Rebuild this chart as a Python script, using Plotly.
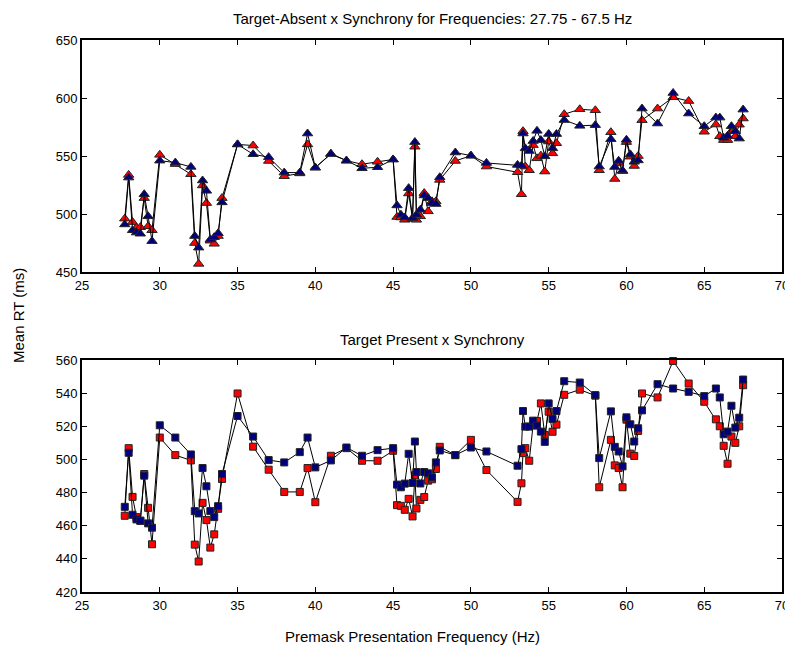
import plotly.graph_objects as go

freqs = [27.75, 28, 28.25, 28.5, 28.75, 29, 29.25, 29.5, 30, 31, 32, 32.25, 32.5, 32.75, 33,
         33.25, 33.5, 33.75, 34, 35, 36, 37, 38, 39, 39.5, 40, 41, 42, 43, 44, 45, 45.25, 45.5,
         45.75, 46, 46.25, 46.4, 46.5, 46.75, 47, 47.25, 47.5, 47.75, 48, 49, 50, 51, 53, 53.25,
         53.35, 53.5, 53.75, 54, 54.25, 54.5, 54.75, 55, 55.25, 55.5, 56, 57, 58, 58.25, 59,
         59.25, 59.5, 59.75, 60, 60.25, 60.5, 60.75, 61, 62, 63, 64, 65, 65.75, 66, 66.25, 66.5,
         66.75, 67, 67.25, 67.5]

absent_red = [496, 533.7, 493, 488, 488.6, 513.7, 489.4, 486, 551, 543, 534.3, 475, 457, 524.6,
              509.4, 477, 474.3, 481, 513.7, 560, 559, 545.7, 532.6, 535, 560, 540, 552, 546,
              542.9, 545, 547, 497.4, 497, 495, 517.7, 495.7, 558, 495, 498, 518, 502.3, 510.9,
              510.9, 529.4, 545.7, 550.3, 540.9, 536, 517, 571.4, 540.9, 537.7, 559.4, 548,
              550.3, 536.6, 562.5, 552.3, 561, 586, 590.3, 589.4, 537.7, 570.5, 530.2, 544, 537,
              562, 549.4, 541.4, 550, 580.9, 590.9, 600.6, 597.4, 570.9, 577.1, 567, 563.7,
              563.7, 571.4, 567, 577, 582.3]

absent_blue = [491, 531.4, 486, 484, 483, 517, 498, 476.6, 546, 544.3, 540.6, 481, 471, 528.9,
               520, 478, 480, 483.4, 510, 560, 551.5, 549, 535.7, 535.7, 569.4, 540, 551.7, 546,
               539.4, 540.3, 547, 507.4, 499.4, 497, 522.3, 496.6, 562, 499.4, 503.7, 516, 513.7,
               509.4, 508.6, 531.7, 553, 550.3, 544, 542.3, 541.7, 569.4, 556.6, 554.3, 562.9,
               571.7, 563.7, 549.7, 569, 556.6, 568.9, 581, 576, 576.6, 540.9, 564.5, 540.5,
               545.9, 537.4, 564, 551.4, 545, 546.2, 590.9, 578, 604.3, 586.6, 575.7, 583.1,
               583.1, 565.7, 567.4, 575.7, 571.4, 565, 590]

present_red = [466, 506.8, 477.4, 465.2, 463, 491.2, 470.8, 448.8, 513.2, 502.6, 499.4, 448.6,
               438.4, 473.8, 463.4, 446.8, 454.8, 470.2, 488.2, 539.8, 507.7, 493.8, 480.4, 480.4,
               494.8, 474.2, 502.2, 506.8, 499.2, 499.2, 505.2, 472.4, 472, 469.6, 476.2, 465.6,
               490.4, 470.4, 475.6, 477.3, 487.2, 488, 494.2, 507.6, 502.6, 511.8, 493.6, 474.4,
               485.6, 503.8, 506.8, 499.2, 520.8, 523.2, 533.8, 514.8, 528.8, 516.7, 521, 539,
               542.1, 538.5, 483.2, 511.8, 496.4, 494.8, 483.2, 524, 503.5, 502.1, 517.2, 539.8,
               537.4, 559.4, 545.8, 534.8, 524.2, 520, 508.2, 497.4, 513.8, 510, 520, 544.8]

present_blue = [471.4, 504, 466.6, 463.8, 463, 490.2, 461.4, 458.8, 520.6, 513.2, 503, 468.8,
                467.4, 494.8, 483.8, 468.8, 465.2, 471.8, 491.2, 526.2, 513.8, 499.6, 498.2,
                504.4, 513.2, 495.2, 499.4, 507.2, 502.2, 505.6, 506.8, 484.8, 483.2, 485.4,
                503.4, 485.8, 510.8, 492.4, 485.5, 492.4, 491.6, 489.2, 498.2, 505.4, 502.6,
                507.2, 504.8, 496.2, 506.2, 529.2, 519.8, 519.8, 523.4, 520.4, 516.8, 510.6,
                533.8, 524.4, 529.2, 547.2, 546.4, 538.8, 500.8, 529, 507.6, 504.8, 495.8, 525.4,
                521.2, 510.8, 518.8, 529.6, 545.4, 542.8, 540.8, 538.2, 542.8, 537.4, 515.2,
                516.8, 532.4, 519.2, 525.2, 548.2]

x_ticks = [25, 30, 35, 40, 45, 50, 55, 60, 65, 70]
top_ticks = [450, 500, 550, 600, 650]
bottom_ticks = [420, 440, 460, 480, 500, 520, 540, 560]

FONT = "Liberation Sans Narrow, Arial Narrow, Liberation Sans, Arial, sans-serif"
RED = "#ff0000"
NAVY = "#00007f"

fig = go.Figure()


def add(y, color, symbol, size, xa, ya):
    fig.add_trace(go.Scatter(
        x=freqs, y=y, mode="lines+markers", xaxis=xa, yaxis=ya,
        line=dict(color="black", width=1),
        marker=dict(symbol=symbol, size=size, color=color,
                    line=dict(color="#222222", width=1)),
        showlegend=False, hoverinfo="x+y", cliponaxis=False))


add(absent_red, RED, "triangle-up", 9, "x", "y")
add(absent_blue, NAVY, "triangle-up", 9, "x", "y")
add(present_red, RED, "square", 7, "x2", "y2")
add(present_blue, NAVY, "square", 7, "x2", "y2")

# page has an 8px body margin; figure occupies page pixels 8..793 / 8..647
OFF = 8
W, H = 793 - OFF, 647 - OFF


def px(p):
    return (p - OFF) / W


def py(p):
    return 1 - (p - OFF) / H


xdom = [px(82), px(782)]
top_dom = [py(272), py(40)]
bot_dom = [py(592), py(360)]

axis_common = dict(showgrid=False, zeroline=False, showline=True, linecolor="black",
                   linewidth=2, mirror="ticks", ticks="inside", ticklen=5, tickwidth=1,
                   tickcolor="black", automargin=False,
                   tickfont=dict(family=FONT, size=13, color="black"))


def label(text, x, y, angle=0):
    return dict(text=text, xref="paper", yref="paper", x=px(x), y=py(y),
                xanchor="center", yanchor="middle", textangle=angle, showarrow=False,
                font=dict(family=FONT, size=15, color="black"))


fig.update_layout(
    width=W, height=H, margin=dict(l=0, r=0, t=0, b=0, autoexpand=False),
    paper_bgcolor="white", plot_bgcolor="white",
    xaxis=dict(domain=xdom, anchor="y", range=[25, 70], tickvals=x_ticks, **axis_common),
    yaxis=dict(domain=top_dom, anchor="x", range=[450, 650], tickvals=top_ticks, **axis_common),
    xaxis2=dict(domain=xdom, anchor="y2", range=[25, 70], tickvals=x_ticks, **axis_common),
    yaxis2=dict(domain=bot_dom, anchor="x2", range=[420, 560], tickvals=bottom_ticks, **axis_common),
    annotations=[
        label("Target-Absent x Synchrony for Frequencies: 27.75 - 67.5 Hz", 432, 18),
        label("Target Present x Synchrony", 432, 340),
        label("Mean RT (ms)", 18, 316, -90),
        label("Premask Presentation Frequency (Hz)", 412, 636),
    ],
)

fig.write_html("out.html")
